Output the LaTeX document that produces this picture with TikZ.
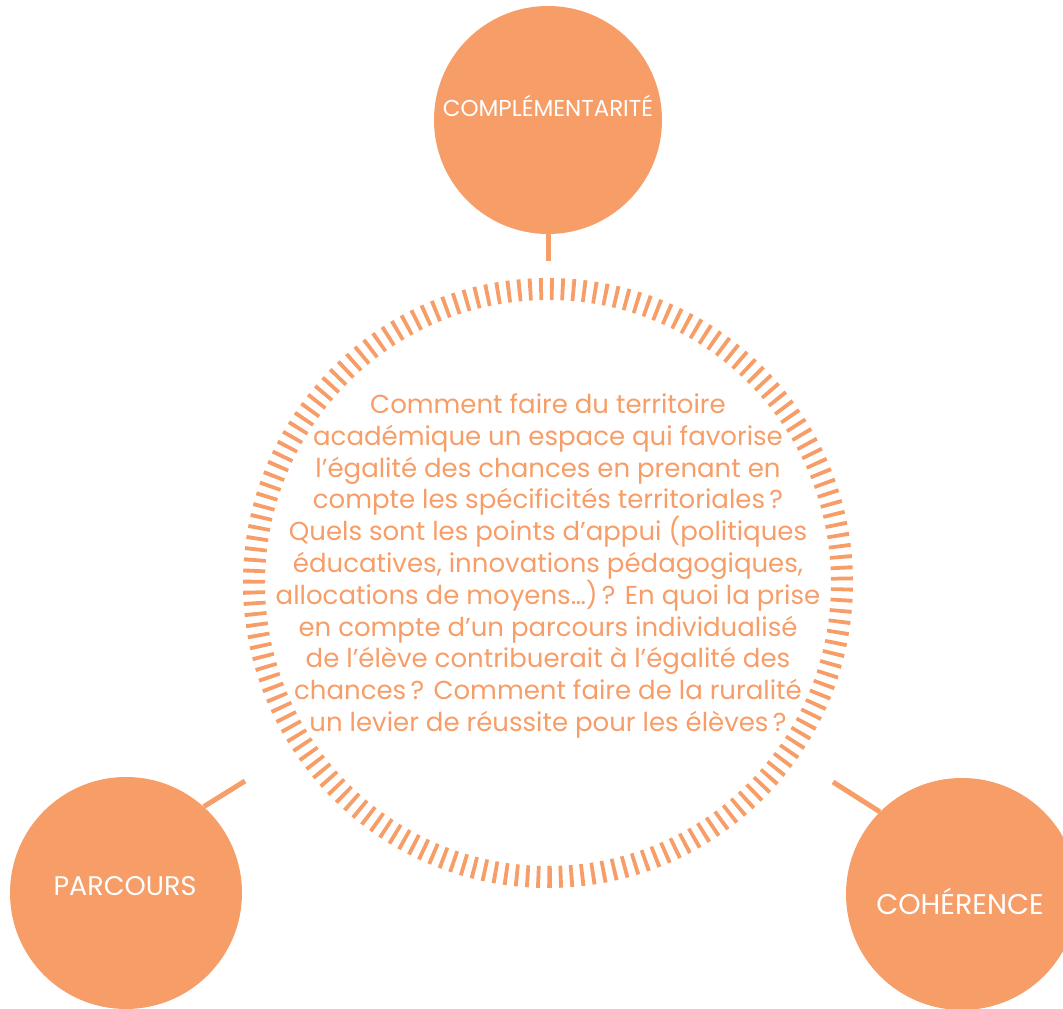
\documentclass[tikz,border=0pt]{standalone}
\usepackage{fontspec}
\setmainfont{Poppins}
\definecolor{peach}{HTML}{F79D67}

\begin{document}
\begin{tikzpicture}[x=1pt,y=1pt,
    bubble/.style={circle,fill=peach,inner sep=0pt,minimum size=230pt},
    tag/.style={text=white,inner sep=0pt},
    link/.style={draw=peach,line width=5pt},
    ticks/.style={draw=peach,line width=22pt,dash pattern=on 3.8pt off 7pt}]
        \clip (0,0) rectangle (1063,1009);
        % the three bubbles
        \node[bubble,minimum size=228pt] (comp) at (548,889) {};
        \node[bubble,minimum size=232pt] (parc) at (126,116) {};
        \node[bubble,minimum size=232pt] (cohe) at (962,115) {};
        \node[tag,font=\fontsize{23}{23}\selectfont] (compt) at (548,903) {COMPLÉMENTARITÉ};
        \node[tag,font=\fontsize{27}{27}\selectfont] (parct) at (125,123) {PARCOURS};
        \node[tag,font=\fontsize{28.5}{28.5}\selectfont] (coht) at (960,108) {COHÉRENCE};
        % ring of ticks
        \node[inner sep=0pt] (ring) at (548,426) {};
        \draw[ticks] (ring.center) ++(0,-294) arc[start angle=-90,end angle=270,radius=294];
        % links
        \coordinate (ca) at (548,748);
        \coordinate (pa) at (245,228);
        \coordinate (ha) at (833,227);
        \draw[link] (comp.south) -- (ca);
        \draw[link] (parc.48) -- (pa);
        \draw[link] (cohe.135) -- (ha);
        % question
        \node[text=peach,align=center,inner sep=0pt,
              font=\fontsize{26}{31.8}\selectfont] (quest) at (548,443)
            {Comment faire du territoire\\
             académique un espace qui favorise\\
             l’égalité des chances en prenant en\\
             compte les spécificités territoriales\,?\\
             Quels sont les points d’appui (politiques\\
             éducatives, innovations pédagogiques,\\
             allocations de moyens…)\,? En quoi la prise\\
             en compte d’un parcours individualisé\\
             de l’élève contribuerait à l’égalité des\\
             chances\,? Comment faire de la ruralité\\
             un levier de réussite pour les élèves\,?};
\end{tikzpicture}
\end{document}
